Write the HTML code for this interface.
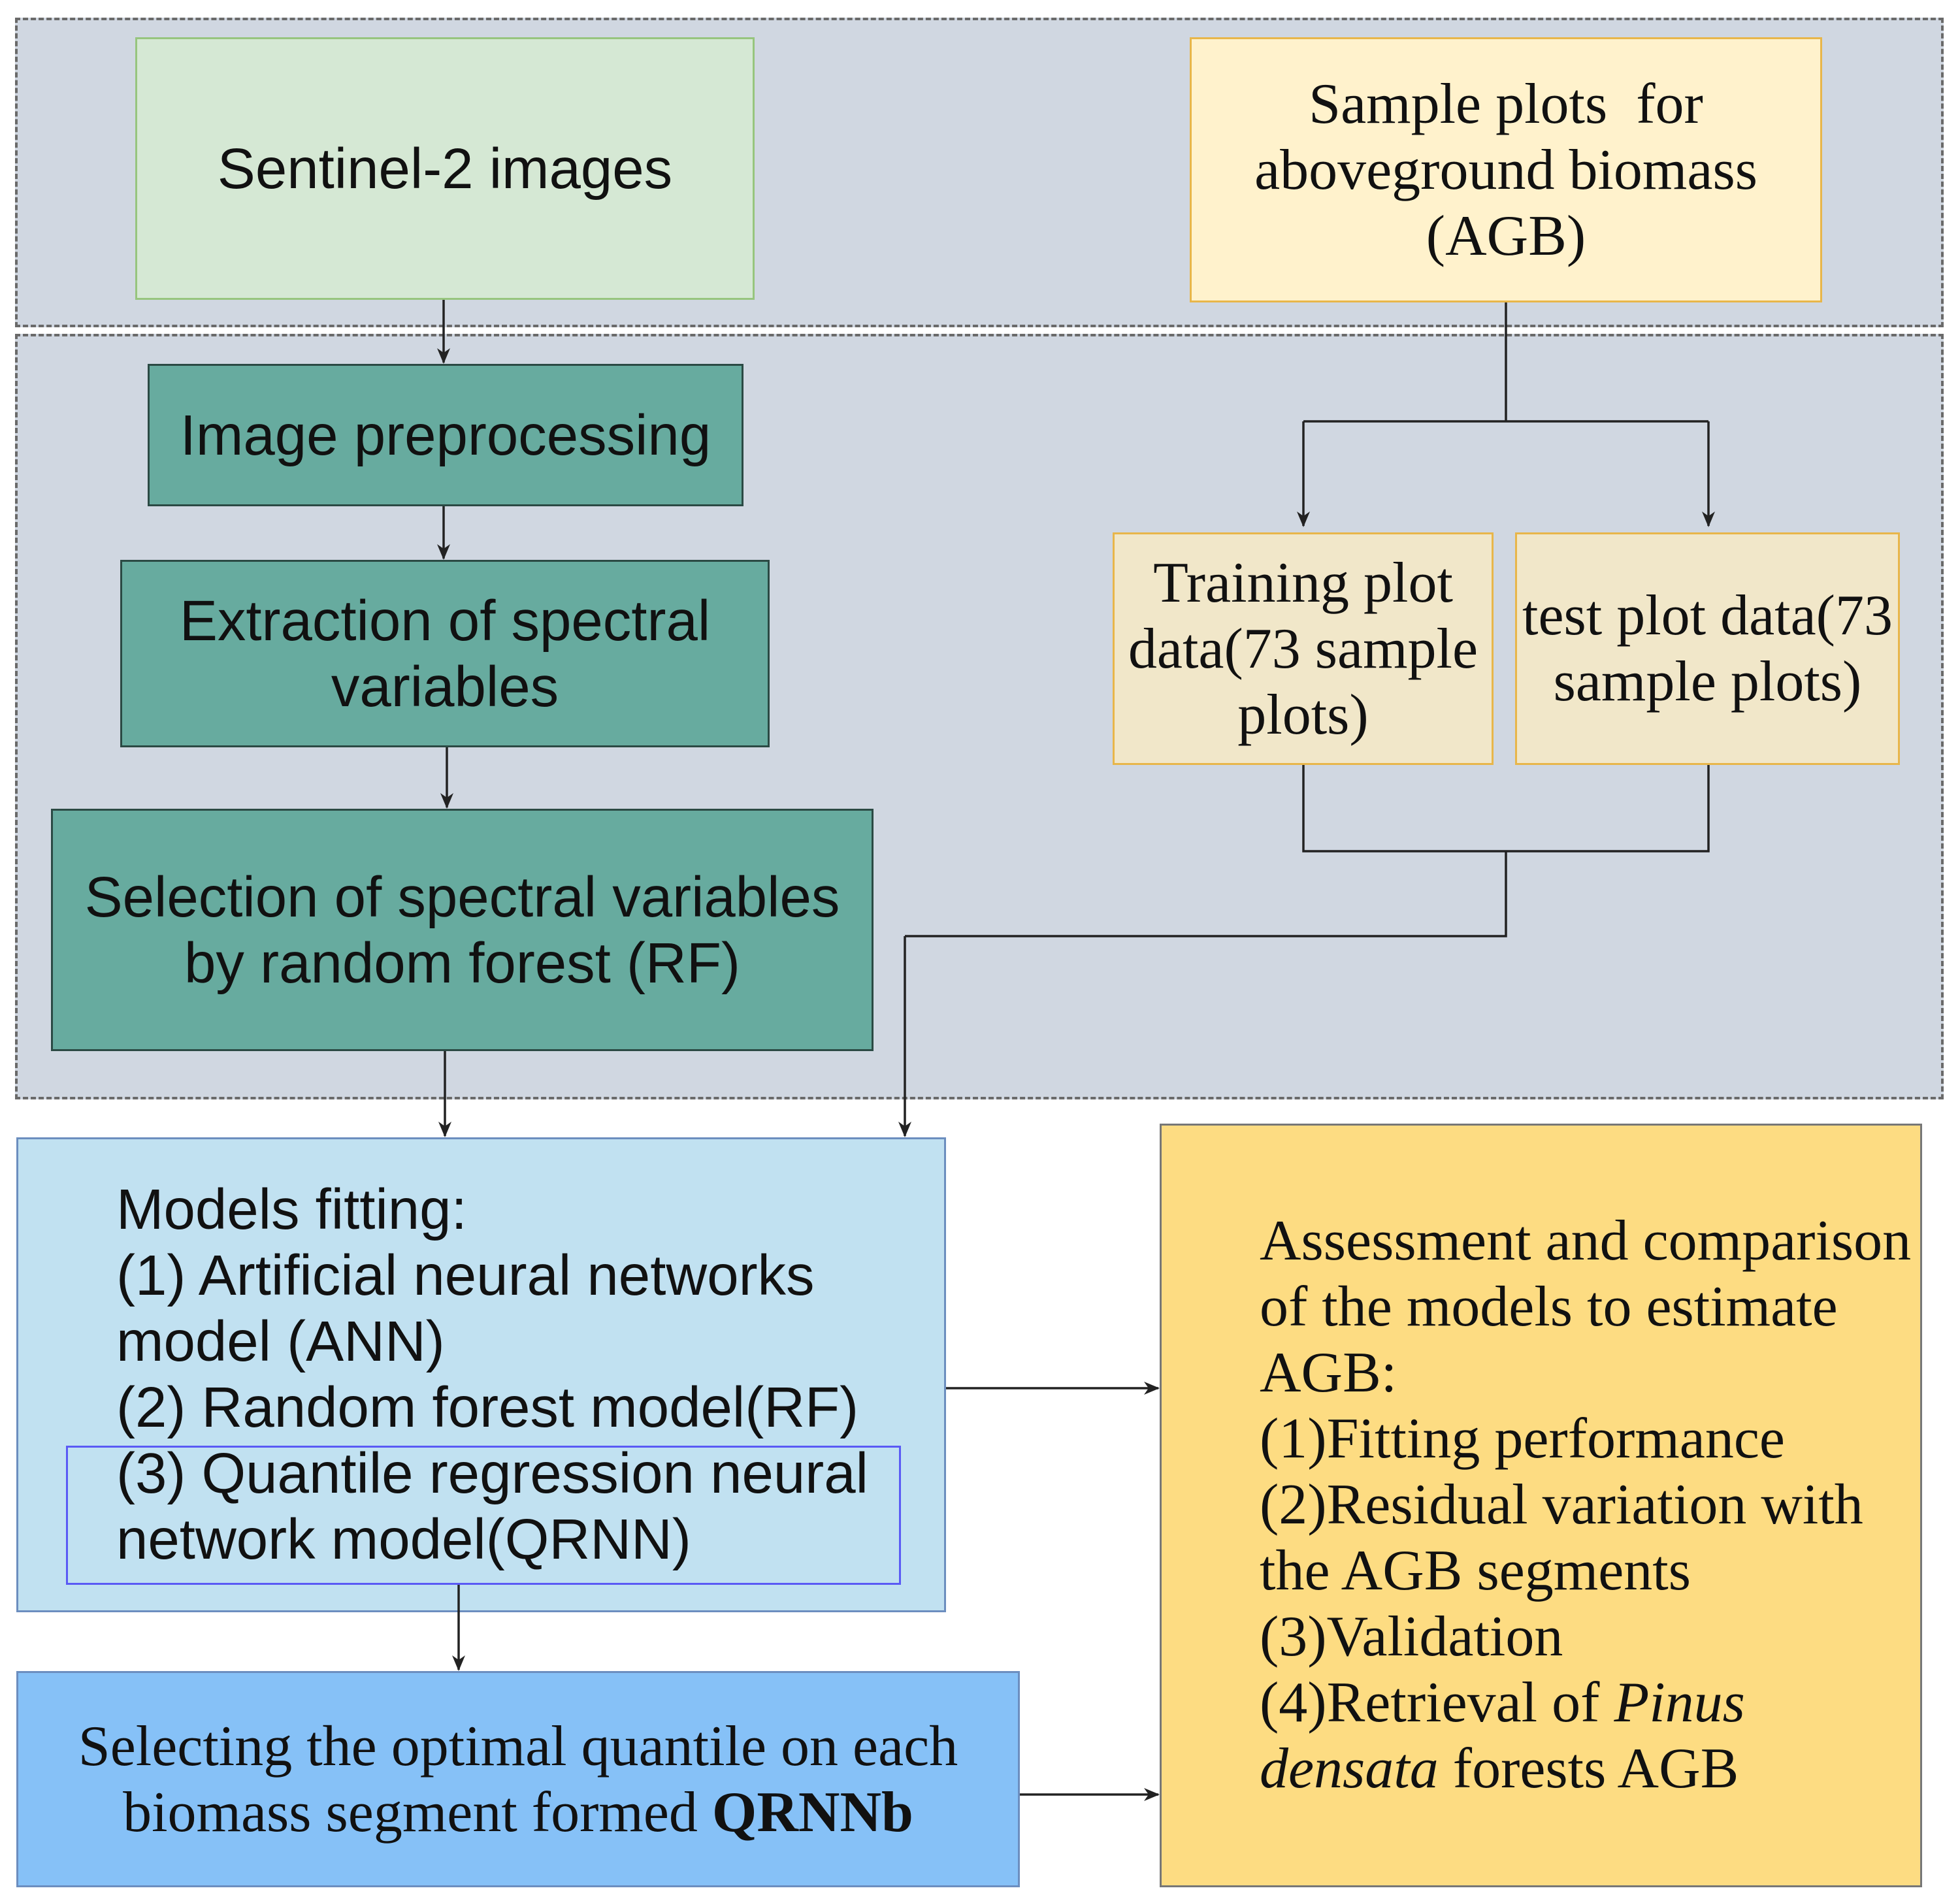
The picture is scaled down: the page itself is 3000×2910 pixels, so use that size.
<!DOCTYPE html>
<html><head><meta charset="utf-8"><style>
body{margin:0;width:3000px;height:2910px;background:#fff;position:relative;overflow:hidden}
.b{position:absolute;box-sizing:border-box;display:flex;align-items:center;justify-content:center;text-align:center;color:#111}
.sans{font-family:"Liberation Sans",sans-serif;font-size:87px;line-height:101px}
.serif{font-family:"Liberation Serif",serif;font-size:88px;line-height:101px}
.teal{background:#67ab9f;border:3px solid #2b4a44}
.tan{background:#f1e7c9;border:3px solid #e8b64a}
svg{position:absolute;left:0;top:0}
</style></head><body>
<div style="position:absolute;left:23px;top:27px;width:2952px;height:474px;background:#d0d7e1;border:4px dashed #6a6a6a;box-sizing:border-box"></div>
<div style="position:absolute;left:23px;top:511px;width:2952px;height:1172px;background:#d0d7e1;border:4px dashed #6a6a6a;box-sizing:border-box"></div>

<div class="b sans" style="left:207px;top:57px;width:948px;height:402px;background:#d5e8d4;border:3px solid #97c57e">Sentinel-2 images</div>
<div class="b serif" style="left:1821px;top:57px;width:968px;height:406px;background:#fff2cc;border:3px solid #e8b64a"><span>Sample plots&nbsp; for<br>aboveground biomass<br>(AGB)</span></div>
<div class="b sans teal" style="left:226px;top:557px;width:912px;height:218px">Image preprocessing</div>
<div class="b sans teal" style="left:184px;top:857px;width:994px;height:287px"><span>Extraction of spectral<br>variables</span></div>
<div class="b sans teal" style="left:78px;top:1238px;width:1259px;height:371px"><span>Selection of spectral variables<br>by random forest (RF)</span></div>
<div class="b serif tan" style="left:1703px;top:815px;width:583px;height:356px"><span>Training plot<br>data(73 sample<br>plots)</span></div>
<div class="b serif tan" style="left:2319px;top:815px;width:589px;height:356px"><span>test plot data(73<br>sample plots)</span></div>

<div class="b sans" style="left:25px;top:1741px;width:1423px;height:727px;background:#c1e1f1;border:3px solid #6c8ebf"></div>
<div style="position:absolute;left:101px;top:2213px;width:1278px;height:213px;border:3px solid #5a5af5;box-sizing:border-box"></div>
<div class="sans" style="position:absolute;left:178px;top:1801px;color:#111;text-align:left;white-space:nowrap">Models fitting:<br>(1) Artificial neural networks<br>model (ANN)<br>(2) Random forest model(RF)<br>(3) Quantile regression neural<br>network model(QRNN)</div>

<div class="b serif" style="left:25px;top:2558px;width:1536px;height:331px;background:#86c1f7;border:3px solid #6c8ebf"><span>Selecting the optimal quantile on each<br>biomass segment formed <b>QRNNb</b></span></div>

<div style="position:absolute;left:1775px;top:1720px;width:1167px;height:1169px;background:#fddc82;border:3px solid #777;box-sizing:border-box"></div>
<div class="serif" style="position:absolute;left:1928px;top:1849px;color:#111;text-align:left;white-space:nowrap">Assessment and comparison<br>of the models to estimate<br>AGB:<br>(1)Fitting performance<br>(2)Residual variation with<br>the AGB segments<br>(3)Validation<br>(4)Retrieval of <i>Pinus</i><br><i>densata</i> forests AGB</div>

<svg width="3000" height="2910" viewBox="0 0 3000 2910">
<defs><marker id="a" markerWidth="24" markerHeight="24" refX="22" refY="12" orient="auto" markerUnits="userSpaceOnUse" viewBox="0 0 24 24"><path d="M0,2 L24,12 L0,22 L7,12 z" fill="#222"/></marker></defs>
<g stroke="#222" stroke-width="3.5" fill="none">
<path d="M679 459 V555" marker-end="url(#a)"/>
<path d="M679 775 V855" marker-end="url(#a)"/>
<path d="M684 1144 V1236" marker-end="url(#a)"/>
<path d="M681 1609 V1739" marker-end="url(#a)"/>
<path d="M2305 463 V645 M1995 645 H2615"/>
<path d="M1995 645 V805" marker-end="url(#a)"/>
<path d="M2615 645 V805" marker-end="url(#a)"/>
<path d="M1995 1171 V1303 H2615 V1171 M2305 1303 V1433 H1385"/>
<path d="M1385 1433 V1739" marker-end="url(#a)"/>
<path d="M1448 2125 H1773" marker-end="url(#a)"/>
<path d="M702 2426 V2556" marker-end="url(#a)"/>
<path d="M1561 2747 H1773" marker-end="url(#a)"/>
</g></svg>
</body></html>
